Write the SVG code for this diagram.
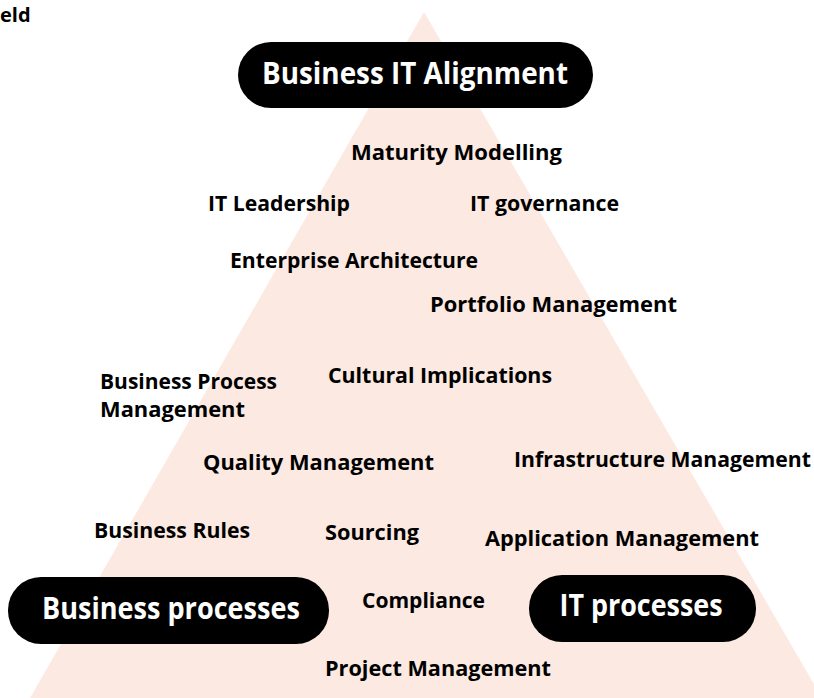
<svg xmlns="http://www.w3.org/2000/svg" width="814" height="698" viewBox="0 0 814 698">
<style>
text{font-family:"Open Sans","Noto Sans","Liberation Sans",sans-serif;font-weight:700;fill:#000}
.lbl{font-size:22px}
.pill{fill:#000}
.pt{font-size:30px;fill:#fff;text-anchor:middle}
</style>
<rect width="814" height="698" fill="#fff"/>
<polygon points="424,12 30,698 822,698" fill="#fce9e1"/>
<text x="0" y="22" style="font-size:20px">eld</text>
<g id="connectors"/>
<g id="alignment">
<rect class="pill" x="238" y="42" width="355" height="66" rx="33"/>
<text class="pt" x="415" y="84" textLength="306" lengthAdjust="spacingAndGlyphs">Business IT Alignment</text>
</g>
<g id="maturity"><text class="lbl" x="351" y="160" textLength="211" lengthAdjust="spacingAndGlyphs">Maturity Modelling</text></g>
<g id="itleadership"><text class="lbl" x="208" y="211" textLength="142" lengthAdjust="spacingAndGlyphs">IT Leadership</text></g>
<g id="itgovernance"><text class="lbl" x="470" y="211" textLength="149" lengthAdjust="spacingAndGlyphs">IT governance</text></g>
<g id="ea"><text class="lbl" x="230" y="268" textLength="248" lengthAdjust="spacingAndGlyphs">Enterprise Architecture</text></g>
<g id="portfolio"><text class="lbl" x="430" y="312" textLength="247" lengthAdjust="spacingAndGlyphs">Portfolio Management</text></g>
<g id="bpm"><text class="lbl" x="100" y="389" textLength="177" lengthAdjust="spacingAndGlyphs">Business Process</text><text class="lbl" x="100" y="417" textLength="145" lengthAdjust="spacingAndGlyphs">Management</text></g>
<g id="cultural"><text class="lbl" x="328" y="383" textLength="224" lengthAdjust="spacingAndGlyphs">Cultural Implications</text></g>
<g id="quality"><text class="lbl" x="203" y="470" textLength="231" lengthAdjust="spacingAndGlyphs">Quality Management</text></g>
<g id="infra"><text class="lbl" x="514" y="467" style="font-size:21px" textLength="297" lengthAdjust="spacingAndGlyphs">Infrastructure Management</text></g>
<g id="rules"><text class="lbl" x="94" y="538" textLength="156" lengthAdjust="spacingAndGlyphs">Business Rules</text></g>
<g id="sourcing"><text class="lbl" x="325" y="540" textLength="94" lengthAdjust="spacingAndGlyphs">Sourcing</text></g>
<g id="application"><text class="lbl" x="485" y="546" textLength="274" lengthAdjust="spacingAndGlyphs">Application Management</text></g>
<g id="businessprocesses">
<rect class="pill" x="8" y="577" width="321" height="67" rx="33"/>
<text class="pt" x="171" y="619" textLength="258" lengthAdjust="spacingAndGlyphs">Business processes</text>
</g>
<g id="compliance"><text class="lbl" x="362" y="608" textLength="123" lengthAdjust="spacingAndGlyphs">Compliance</text></g>
<g id="itprocesses">
<rect class="pill" x="529" y="575" width="227" height="67" rx="33"/>
<text class="pt" x="641" y="616" textLength="163" lengthAdjust="spacingAndGlyphs">IT processes</text>
</g>
<g id="project"><text class="lbl" x="325" y="676" textLength="226" lengthAdjust="spacingAndGlyphs">Project Management</text></g>
</svg>
